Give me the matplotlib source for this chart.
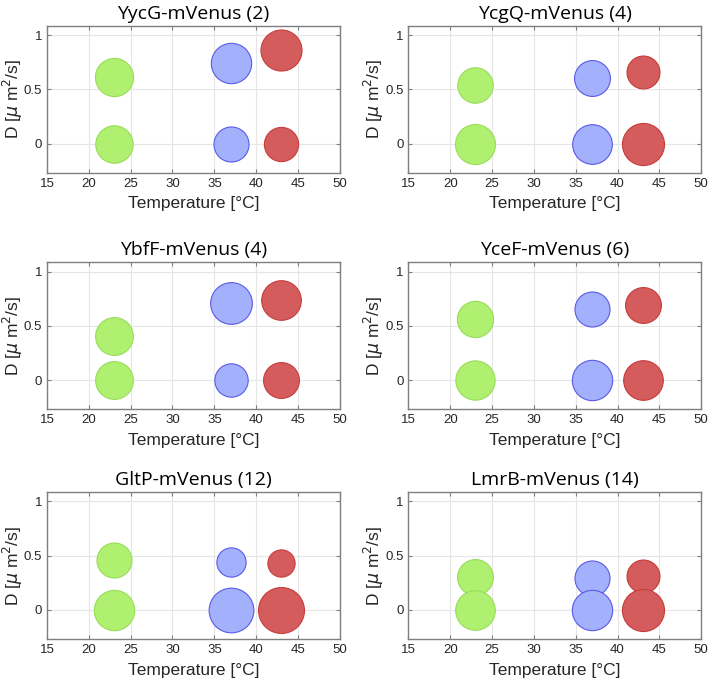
import matplotlib.pyplot as plt

# temperatures (°C) for the three conditions
temps = [23, 37, 43]

titles = ['YycG-mVenus (2)', 'YcgQ-mVenus (4)', 'YbfF-mVenus (4)',
          'YceF-mVenus (6)', 'GltP-mVenus (12)', 'LmrB-mVenus (14)']

# diffusion coefficient of the mobile population at 23, 37, 43 °C
d_mobile = [
    [0.61, 0.74, 0.86],
    [0.54, 0.60, 0.655],
    [0.41, 0.71, 0.74],
    [0.56, 0.66, 0.69],
    [0.46, 0.44, 0.43],
    [0.30, 0.295, 0.31],
]
# static population sits at D = 0
d_static = [0, 0, 0]

# fraction of molecules in the mobile population (rest is static)
frac_mobile = [
    [0.51, 0.57, 0.59],
    [0.44, 0.45, 0.38],
    [0.50, 0.61, 0.55],
    [0.46, 0.43, 0.45],
    [0.43, 0.30, 0.26],
    [0.45, 0.43, 0.38],
]

face_colors = ['#b0f070', '#a3b0fc', '#d45c5c']
edge_colors = ['#98dc5a', '#5a5ae6', '#c83c3c']

size_scale = 1480  # points^2 for a fraction of 1

fig = plt.figure(figsize=(7.09, 6.82), dpi=100)

lefts = [0.0663, 0.576]
bottoms = [0.7468, 0.3998, 0.063]
w, h = 0.413, 0.2155

for i, title in enumerate(titles):
    ax = fig.add_axes([lefts[i % 2], bottoms[i // 2], w, h])
    for j, t in enumerate(temps):
        fm = frac_mobile[i][j]
        ax.scatter(t, d_mobile[i][j], s=fm * size_scale, c=face_colors[j],
                   edgecolors=edge_colors[j], linewidths=0.8, zorder=3)
        ax.scatter(t, d_static[j], s=(1 - fm) * size_scale, c=face_colors[j],
                   edgecolors=edge_colors[j], linewidths=0.8, zorder=3)

    ax.set_xlim(15, 50)
    ax.set_ylim(-0.268, 1.086)
    ax.set_xticks([15, 20, 25, 30, 35, 40, 45, 50])
    ax.set_yticks([0, 0.5, 1])
    ax.set_yticklabels(['0', '0.5', '1'])
    ax.grid(True, color='#e6e6e6', linewidth=0.8, zorder=0)
    ax.set_axisbelow(True)
    for sp in ax.spines.values():
        sp.set_color('#7f7f7f')
        sp.set_linewidth(1.0)
    ax.tick_params(direction='in', length=3, color='#7f7f7f', labelsize=9.5,
                   labelcolor='#262626', top=True, right=True, pad=3.5)
    for lab in ax.get_xticklabels() + ax.get_yticklabels():
        lab.set_family('Liberation Sans')
    ax.set_xlabel('Temperature [°C]', fontsize=12.5, family='Liberation Sans',
                  color='#262626', labelpad=5)
    ax.set_ylabel('D [$\\mu$ m$^2$/s]', fontsize=12.5, family='Liberation Sans',
                  color='#262626')
    ax.yaxis.set_label_coords(-0.075, 0.5)
    ax.set_title(title, fontsize=14, family='Open Sans', color='black', pad=5)

plt.savefig('out.png', dpi=100)
